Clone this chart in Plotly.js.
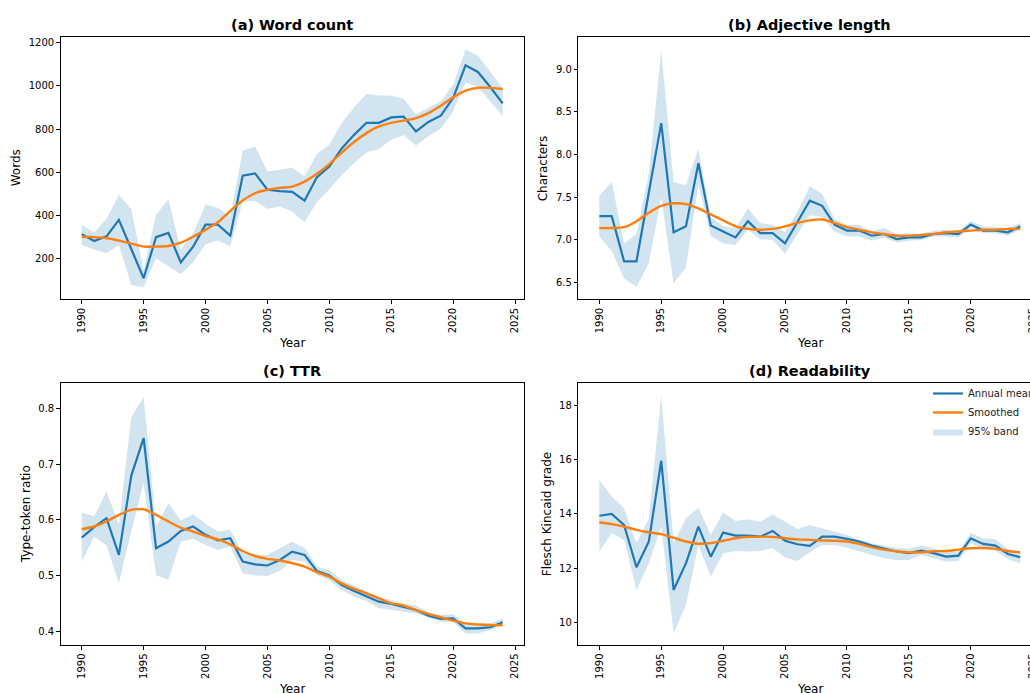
<!DOCTYPE html>
<html>
<head>
<meta charset="utf-8">
<script src="https://cdn.plot.ly/plotly-3.0.1.min.js"></script>
<style>
html, body { margin: 0; padding: 0; overflow: hidden; background: #ffffff; }
#chart { width: 1050px; height: 700px; }
</style>
</head>
<body>
<div id="chart"></div>
<script>
// ---------- data ----------
const years = [1990,1991,1992,1993,1994,1995,1996,1997,1998,1999,
               2000,2001,2002,2003,2004,2005,2006,2007,2008,2009,
               2010,2011,2012,2013,2014,2015,2016,2017,2018,2019,
               2020,2021,2022,2023,2024];
const xTickVals = [1990,1995,2000,2005,2010,2015,2020,2025];

// (a) Word count
const wordMean = [312,280,302,378,243,107,298,318,181,254,
                  356,356,305,583,594,518,512,508,468,577,
                  626,710,773,829,829,854,858,789,833,862,
                  944,1096,1065,995,919];
const wordLow  = [262,239,223,262,76,65,200,161,126,181,
                  265,282,257,463,466,429,440,417,366,463,
                  521,586,642,691,707,750,772,724,766,801,
                  882,1017,995,928,859];
const wordHigh = [355,321,383,494,429,145,401,474,239,316,
                  449,434,393,700,719,603,611,621,580,685,
                  727,828,900,964,956,956,941,867,900,928,
                  1006,1169,1141,1068,991];
const wordSmooth = [300,298,293,282,268,254,254,257,273,300,
                    332,367,420,468,502,518,527,533,556,592,
                    637,691,740,781,812,829,839,851,874,908,
                    947,978,992,991,986];

// (b) Adjective length
const adjMean = [7.28,7.28,6.75,6.75,7.56,8.37,7.09,7.16,7.90,7.17,
                 7.10,7.03,7.22,7.08,7.08,6.96,7.21,7.46,7.40,7.18,
                 7.11,7.11,7.05,7.07,7.01,7.03,7.03,7.07,7.08,7.07,
                 7.18,7.11,7.11,7.09,7.16];
const adjLow  = [7.04,6.87,6.55,6.45,6.73,7.50,6.49,6.68,7.65,7.05,
                 6.96,6.94,7.12,7.01,7.00,6.84,7.07,7.29,7.27,7.10,
                 7.04,7.04,6.99,7.03,6.97,6.99,7.00,7.04,7.04,7.03,
                 7.14,7.08,7.08,7.05,7.12];
const adjHigh = [7.52,7.68,6.96,7.07,7.78,9.23,7.68,7.64,8.07,7.27,
                 7.16,7.14,7.37,7.20,7.18,7.09,7.33,7.63,7.54,7.25,
                 7.18,7.18,7.10,7.14,7.07,7.08,7.07,7.11,7.12,7.11,
                 7.22,7.16,7.15,7.14,7.20];
const adjSmooth = [7.14,7.14,7.15,7.22,7.32,7.40,7.43,7.42,7.37,7.30,
                   7.23,7.16,7.13,7.12,7.13,7.16,7.20,7.23,7.24,7.20,
                   7.15,7.12,7.09,7.07,7.05,7.05,7.06,7.07,7.09,7.10,
                   7.11,7.12,7.12,7.13,7.13];

// (c) TTR
const ttrMean = [0.568,0.587,0.603,0.537,0.679,0.747,0.549,0.561,0.580,0.588,
                 0.573,0.563,0.567,0.525,0.520,0.518,0.528,0.543,0.537,0.508,
                 0.500,0.483,0.472,0.463,0.453,0.449,0.443,0.438,0.428,0.422,
                 0.423,0.405,0.405,0.407,0.416];
const ttrLow  = [0.525,0.570,0.554,0.486,0.579,0.666,0.501,0.492,0.561,0.566,
                 0.555,0.546,0.552,0.504,0.500,0.499,0.508,0.528,0.525,0.501,
                 0.492,0.474,0.462,0.454,0.441,0.438,0.435,0.432,0.425,0.417,
                 0.417,0.396,0.396,0.402,0.410];
const ttrHigh = [0.613,0.606,0.651,0.591,0.784,0.821,0.588,0.630,0.599,0.610,
                 0.593,0.579,0.582,0.540,0.538,0.537,0.549,0.560,0.550,0.516,
                 0.510,0.492,0.482,0.472,0.462,0.456,0.450,0.446,0.434,0.429,
                 0.431,0.414,0.413,0.414,0.423];
const ttrSmooth = [0.583,0.588,0.597,0.609,0.618,0.619,0.609,0.597,0.586,0.579,
                   0.571,0.565,0.556,0.544,0.535,0.530,0.527,0.522,0.516,0.506,
                   0.498,0.486,0.476,0.468,0.459,0.450,0.446,0.438,0.431,0.425,
                   0.419,0.414,0.412,0.411,0.411];

// (d) Readability
const readMean = [13.93,14.00,13.59,12.03,12.98,15.96,11.19,12.18,13.53,12.42,
                  13.31,13.20,13.20,13.16,13.37,13.01,12.88,12.82,13.16,13.16,
                  13.08,12.98,12.83,12.71,12.61,12.55,12.64,12.55,12.42,12.46,
                  13.10,12.89,12.83,12.52,12.40];
const readLow  = [12.61,13.29,13.04,11.19,12.18,13.53,9.59,10.64,12.85,11.68,
                  12.55,12.63,12.61,12.63,12.73,12.39,12.26,12.58,12.85,12.85,
                  12.75,12.61,12.48,12.36,12.30,12.30,12.48,12.36,12.24,12.26,
                  12.92,12.71,12.64,12.33,12.18];
const readHigh = [15.25,14.64,14.21,12.92,13.84,18.37,12.92,13.84,14.23,13.22,
                  14.05,13.74,13.80,13.71,13.99,13.71,13.44,13.59,13.47,13.35,
                  13.22,13.04,12.92,12.83,12.75,12.71,12.83,12.73,12.61,12.61,
                  13.29,13.10,13.06,12.71,12.57];
const readSmooth = [13.69,13.62,13.53,13.41,13.32,13.25,13.12,12.98,12.90,12.92,
                    13.01,13.10,13.15,13.16,13.15,13.10,13.06,13.04,13.02,13.01,
                    12.98,12.89,12.77,12.68,12.62,12.58,12.58,12.62,12.63,12.68,
                    12.73,12.74,12.71,12.63,12.58];

const panelTitles = ["(a) Word count", "(b) Adjective length", "(c) TTR", "(d) Readability"];
const yLabels = ["Words", "Characters", "Type-token ratio", "Flesch Kincaid grade"];
const xLabel = "Year";
const legendNames = ["Annual mean", "Smoothed", "95% band"];

// ---------- styling ----------
const BLUE = "#1f77b4";
const ORANGE = "#ff7f0e";
const BAND = "rgba(31,119,180,0.2)";
const FONT = "DejaVu Sans, Liberation Sans, sans-serif";
const W = 1050, H = 700;

const panels = [
  {mean: wordMean, low: wordLow, high: wordHigh, smooth: wordSmooth},
  {mean: adjMean,  low: adjLow,  high: adjHigh,  smooth: adjSmooth},
  {mean: ttrMean,  low: ttrLow,  high: ttrHigh,  smooth: ttrSmooth},
  {mean: readMean, low: readLow, high: readHigh, smooth: readSmooth}
];

const traces = [];
panels.forEach((p, i) => {
  const xa = i === 0 ? "x" : "x" + (i + 1);
  const ya = i === 0 ? "y" : "y" + (i + 1);
  const showLeg = (i === 3);
  traces.push({x: years, y: p.low, xaxis: xa, yaxis: ya, type: "scatter", mode: "lines",
    line: {width: 0, color: BAND}, showlegend: false, hoverinfo: "skip"});
  traces.push({x: years, y: p.high, xaxis: xa, yaxis: ya, type: "scatter", mode: "lines",
    fill: "tonexty", fillcolor: BAND, line: {width: 0, color: BAND},
    name: legendNames[2], showlegend: showLeg, legendrank: 3, hoverinfo: "skip"});
  traces.push({x: years, y: p.mean, xaxis: xa, yaxis: ya, type: "scatter", mode: "lines",
    line: {color: BLUE, width: 2.2}, name: legendNames[0], showlegend: showLeg, legendrank: 1});
  traces.push({x: years, y: p.smooth, xaxis: xa, yaxis: ya, type: "scatter", mode: "lines",
    line: {color: ORANGE, width: 2.4, shape: "spline", smoothing: 0.6},
    name: legendNames[1], showlegend: showLeg, legendrank: 2});
});

// panel geometry in pixels (left, right, top, bottom)
const boxes = [
  [60.7, 523.7, 37.3, 299.3],
  [578.3, 1041.3, 37.3, 299.3],
  [60.7, 523.7, 383.3, 645.0],
  [578.3, 1041.3, 383.3, 645.0]
];
const yRanges = [[9.5, 1226], [6.305, 9.375], [0.3752, 0.8452], [9.16, 18.82]];
const yTicks = [
  {vals: [200,400,600,800,1000,1200], fmt: "d"},
  {vals: [6.5,7.0,7.5,8.0,8.5,9.0], fmt: ".1f"},
  {vals: [0.4,0.5,0.6,0.7,0.8], fmt: ".1f"},
  {vals: [10,12,14,16,18], fmt: "d"}
];
const yLabelX = [16, 543, 26, 547];

const axisCommon = {
  showgrid: false, zeroline: false, showline: true, mirror: true,
  linecolor: "#000", linewidth: 1, ticks: "outside", ticklen: 3.5, tickwidth: 1,
  tickcolor: "#000", tickfont: {family: FONT, size: 10, color: "#000"}
};

const layout = {
  width: W, height: H, autosize: false,
  margin: {l: 0, r: 0, t: 0, b: 0},
  paper_bgcolor: "#fff", plot_bgcolor: "#fff",
  font: {family: FONT, color: "#000"},
  showlegend: true,
  legend: {
    x: 928 / W, y: 1 - 379 / H, xanchor: "left", yanchor: "top",
    traceorder: "normal",
    bgcolor: "rgba(255,255,255,0)", borderwidth: 0,
    font: {family: FONT, size: 10, color: "#222"}, tracegroupgap: 0
  },
  annotations: []
};

boxes.forEach((b, i) => {
  const sfx = i === 0 ? "" : String(i + 1);
  const xa = "x" + sfx, ya = "y" + sfx;
  layout["xaxis" + sfx] = Object.assign({}, axisCommon, {
    domain: [b[0] / W, b[1] / W], anchor: ya, range: [1988.3, 2025.7],
    tickmode: "array", tickvals: xTickVals, ticktext: xTickVals.map(String), tickangle: -90
  });
  layout["yaxis" + sfx] = Object.assign({}, axisCommon, {
    domain: [1 - b[3] / H, 1 - b[2] / H], anchor: xa, range: yRanges[i],
    tickmode: "array", tickvals: yTicks[i].vals, tickformat: yTicks[i].fmt
  });
  const cx = (b[0] + b[1]) / 2;
  layout.annotations.push({
    text: "<b>" + panelTitles[i] + "</b>", xref: "paper", yref: "paper",
    x: cx / W, y: 1 - (b[2] - 12) / H, xanchor: "center", yanchor: "middle",
    showarrow: false, font: {family: FONT, size: 14.5, color: "#000"}
  });
  layout.annotations.push({
    text: xLabel, xref: "paper", yref: "paper",
    x: cx / W, y: 1 - (b[3] + 43.5) / H, xanchor: "center", yanchor: "middle",
    showarrow: false, font: {family: FONT, size: 12, color: "#000"}
  });
  layout.annotations.push({
    text: yLabels[i], xref: "paper", yref: "paper", textangle: -90,
    x: yLabelX[i] / W, y: 1 - ((b[2] + b[3]) / 2) / H, xanchor: "center", yanchor: "middle",
    showarrow: false, font: {family: FONT, size: 12, color: "#000"}
  });
});

Plotly.newPlot("chart", traces, layout, {displayModeBar: false, responsive: false});
</script>
</body>
</html>
